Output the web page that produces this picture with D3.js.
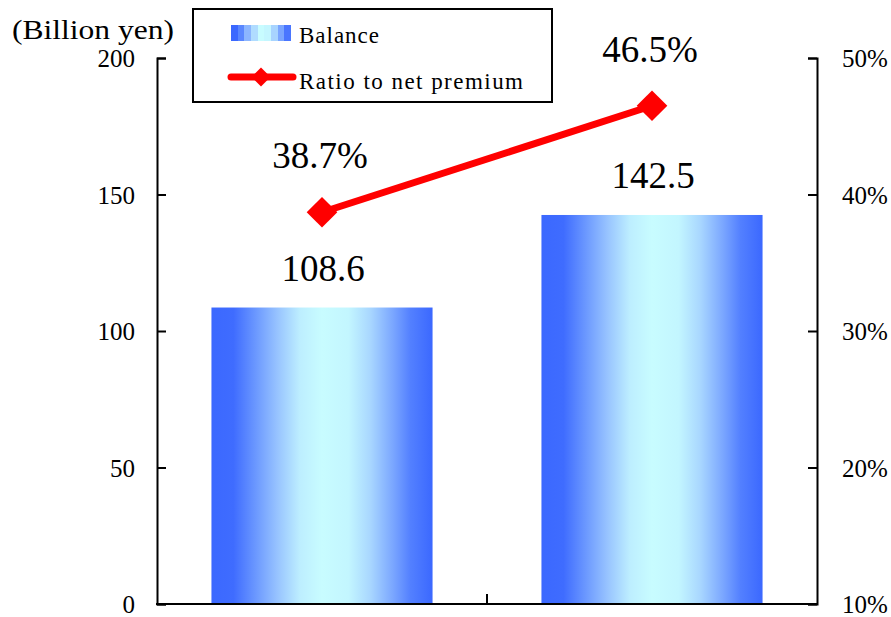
<!DOCTYPE html>
<html>
<head>
<meta charset="utf-8">
<script src="https://cdn.jsdelivr.net/npm/d3@7/dist/d3.min.js"></script>
<style>
  html, body { margin: 0; padding: 0; background: #fff; }
  svg { display: block; }
  svg text { fill: #000; }
</style>
</head>
<body>
<svg id="chart" width="891" height="617"></svg>
<script>
// Reserve balance by fiscal period, and its ratio to net premium
const categories = ["A", "B"];
const balance = [108.6, 142.5];            // billion yen
const ratio = [38.7, 46.5];                // percent
const leftTicks = [0, 50, 100, 150, 200];
const rightTicks = [10, 20, 30, 40, 50];

const SERIF = '"Liberation Serif", "Times New Roman", Tinos, "Noto Serif", "DejaVu Serif", FreeSerif, "Nimbus Roman", "Nimbus Roman No9 L", Georgia, serif';
const svg = d3.select("#chart").attr("font-family", SERIF);
const plot = { left: 157, right: 817, top: 58, bottom: 604 };

const x = d3.scaleBand()
  .domain(categories)
  .range([plot.left, plot.right])
  .paddingInner(0.33)
  .paddingOuter(0.165);

const yL = d3.scaleLinear().domain([0, 200]).range([plot.bottom, plot.top]);
const yR = d3.scaleLinear().domain([10, 50]).range([plot.bottom, plot.top]);

// Blue-to-cyan gradient for the bars (edge → centre → edge)
const defs = svg.append("defs");
const barStops = [
  [0.00, "#3b68ff"], [0.10, "#3f6cff"], [0.20, "#6b98ff"], [0.30, "#98c4ff"],
  [0.40, "#bdeeff"], [0.50, "#c8fcff"], [0.62, "#c3f6ff"], [0.72, "#a8d6ff"],
  [0.82, "#7ba7ff"], [0.90, "#5380ff"], [1.00, "#3b68ff"]
];
const bar = defs.append("linearGradient").attr("id", "barGrad")
  .attr("x1", "0").attr("x2", "1").attr("y1", "0").attr("y2", "0");
barStops.forEach(([o, c]) => bar.append("stop").attr("offset", o).attr("stop-color", c));

// The legend swatch shows the same colours in visible bands
const bandColors = ["#3b68ff", "#5a87ff", "#8cb6ff", "#b0dcff", "#c8fcff",
                    "#c4f6ff", "#a8d4ff", "#7aa5ff", "#4a76ff"];
const leg = defs.append("linearGradient").attr("id", "legendGrad")
  .attr("x1", "0").attr("x2", "1").attr("y1", "0").attr("y2", "0");
bandColors.forEach((c, i) => {
  leg.append("stop").attr("offset", i / bandColors.length).attr("stop-color", c);
  leg.append("stop").attr("offset", (i + 1) / bandColors.length).attr("stop-color", c);
});

// Bars
svg.append("g").selectAll("rect")
  .data(categories)
  .join("rect")
  .attr("x", d => x(d))
  .attr("width", x.bandwidth())
  .attr("y", (d, i) => yL(balance[i]))
  .attr("height", (d, i) => yL(0) - yL(balance[i]))
  .attr("fill", "url(#barGrad)");

// Axes
const axisStyle = g => {
  g.attr("font-family", SERIF).attr("font-size", 25);
  g.select(".domain").attr("stroke", "#000").attr("stroke-width", 2);
  g.selectAll(".tick line").attr("stroke", "#000").attr("stroke-width", 2);
  g.selectAll(".tick text").attr("dy", "0.35em");
};

svg.append("g")
  .attr("transform", `translate(${plot.left},0)`)
  .call(d3.axisLeft(yL).tickValues(leftTicks).tickSizeInner(-9).tickSizeOuter(-9).tickPadding(22))
  .call(axisStyle);

svg.append("g")
  .attr("transform", `translate(${plot.right},0)`)
  .call(d3.axisRight(yR).tickValues(rightTicks).tickFormat(d => d + "%")
    .tickSizeInner(-9).tickSizeOuter(-9).tickPadding(25))
  .call(axisStyle);

// Category axis: baseline with a divider tick between the two periods
const xAxis = svg.append("g");
xAxis.append("line")
  .attr("x1", plot.left - 1).attr("x2", plot.right + 1)
  .attr("y1", plot.bottom).attr("y2", plot.bottom)
  .attr("stroke", "#000").attr("stroke-width", 2);
const mid = (x(categories[0]) + x.bandwidth() + x(categories[1])) / 2;
xAxis.append("line")
  .attr("x1", mid).attr("x2", mid)
  .attr("y1", plot.bottom).attr("y2", plot.bottom - 10)
  .attr("stroke", "#000").attr("stroke-width", 2);

// Ratio line with diamond markers
const cx = d => x(d) + x.bandwidth() / 2;
const lineGen = d3.line().x((d, i) => cx(categories[i])).y(d => yR(d));
svg.append("path")
  .datum(ratio)
  .attr("d", lineGen)
  .attr("fill", "none")
  .attr("stroke", "#ff0000")
  .attr("stroke-width", 7);

svg.append("g").selectAll("path")
  .data(ratio)
  .join("path")
  .attr("d", d3.symbol().type(d3.symbolSquare).size(470))
  .attr("transform", (d, i) => `translate(${cx(categories[i])},${yR(d)}) rotate(45)`)
  .attr("fill", "#ff0000");

// Value labels
svg.append("g").selectAll("text")
  .data(balance)
  .join("text")
  .attr("x", (d, i) => cx(categories[i]) + 1)
  .attr("y", d => yL(d) - 27)
  .attr("text-anchor", "middle")
  .attr("font-size", 37)
  .text(d => d.toFixed(1));

svg.append("g").selectAll("text")
  .data(ratio)
  .join("text")
  .attr("x", (d, i) => cx(categories[i]) - 2)
  .attr("y", d => yR(d) - 44)
  .attr("text-anchor", "middle")
  .attr("font-size", 37)
  .text(d => d.toFixed(1) + "%");

// Unit label
svg.append("text")
  .attr("x", 12).attr("y", 39)
  .attr("font-size", 28)
  .attr("textLength", 162).attr("lengthAdjust", "spacingAndGlyphs")
  .text("(Billion yen)");

// Legend
const legend = svg.append("g");
legend.append("rect")
  .attr("x", 193).attr("y", 9).attr("width", 359).attr("height", 93)
  .attr("fill", "#fff").attr("stroke", "#000").attr("stroke-width", 2);
legend.append("rect")
  .attr("x", 231).attr("y", 25).attr("width", 60).attr("height", 16)
  .attr("fill", "url(#legendGrad)");
legend.append("line")
  .attr("x1", 231).attr("x2", 293).attr("y1", 77).attr("y2", 77)
  .attr("stroke", "#ff0000").attr("stroke-width", 7).attr("stroke-linecap", "round");
legend.append("path")
  .attr("d", d3.symbol().type(d3.symbolSquare).size(180))
  .attr("transform", "translate(261,77) rotate(45)")
  .attr("fill", "#ff0000");
legend.append("text")
  .attr("x", 299).attr("y", 43)
  .attr("font-size", 23)
  .attr("textLength", 80).attr("lengthAdjust", "spacing")
  .text("Balance");
legend.append("text")
  .attr("x", 299).attr("y", 89)
  .attr("font-size", 23)
  .attr("textLength", 224).attr("lengthAdjust", "spacing")
  .text("Ratio to net premium");
</script>
</body>
</html>
